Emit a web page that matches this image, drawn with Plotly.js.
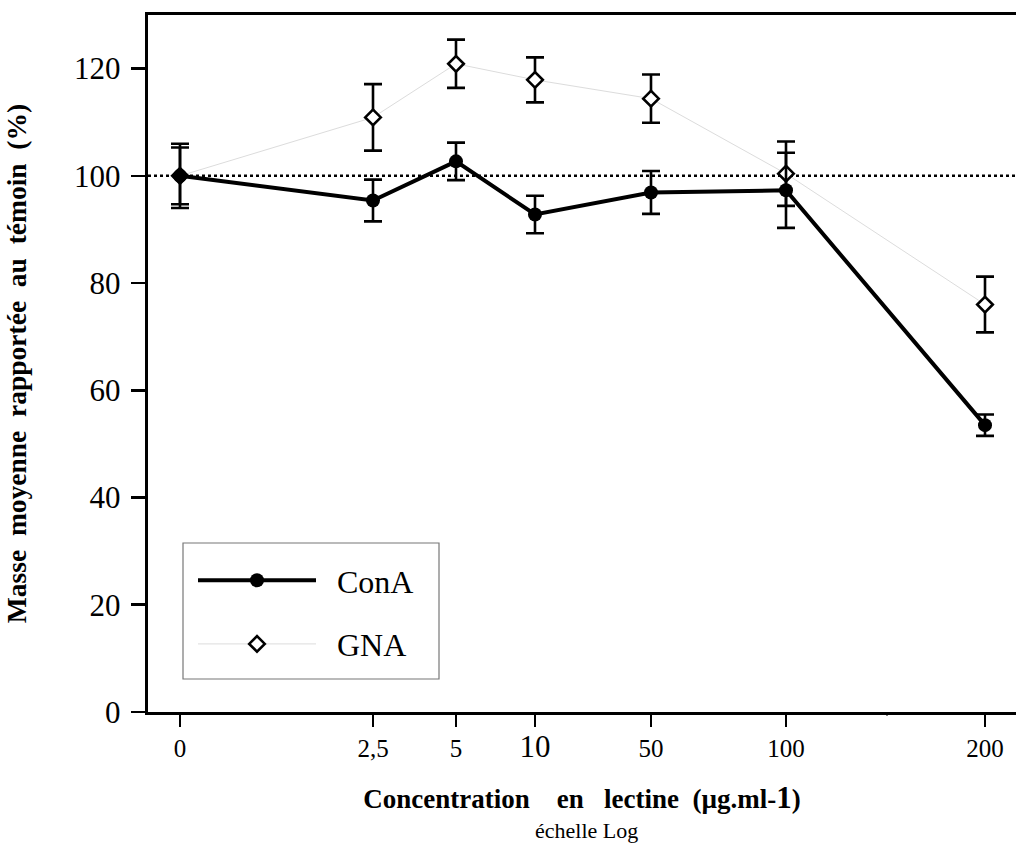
<!DOCTYPE html>
<html><head><meta charset="utf-8">
<script src="https://cdn.plot.ly/plotly-3.0.1.min.js"></script>
<style>body{margin:0;background:#fff}#chart{width:1016px;height:847px}</style>
</head><body><div id="chart"></div>
<script>
// Concentration categories (µg/ml) and their slot positions on the (non-uniform) log-like axis
var concLabels = ['0', '2,5', '5', '10', '50', '100', '200'];
var concSlots  = [0.32, 2.25, 3.08, 3.87, 5.03, 6.38, 8.37];

// ConA: mean mass relative to control (%) and error
var conaMean = [100.0, 95.4, 102.7, 92.8, 96.9, 97.3, 53.5];
var conaErr  = [5.3, 3.9, 3.5, 3.5, 4.0, 7.0, 2.0];

// GNA
var gnaMean = [100.0, 110.9, 120.9, 117.9, 114.4, 100.4, 76.0];
var gnaErr  = [6.0, 6.2, 4.5, 4.2, 4.5, 6.0, 5.2];

var yTicks = [0, 20, 40, 60, 80, 100, 120];

var serif = 'Liberation Serif, Times New Roman, serif';
var nb = '\u00a0';
var gap2 = nb + ' ';
var gap3 = nb + nb + ' ';
var gap4 = nb + nb + nb + ' ';

var tickText = concLabels.map(function(l){
  return l === '10' ? '<span style="font-size:31px">10</span>' : l;
});

var traces = [
  {
    x: concSlots, y: gnaMean, name: nb + nb + 'GNA', type: 'scatter', mode: 'lines+markers',
    legendrank: 2, legendgroup: 'gna',
    line: {color: '#dcdcdc', width: 1},
    marker: {symbol: 'diamond', size: 12, color: '#fff', line: {color: '#000', width: 2.6}},
    error_y: {type: 'data', array: gnaErr, visible: true, color: '#000', thickness: 2.6, width: 9}
  },
  {
    x: concSlots, y: conaMean, name: nb + nb + 'ConA', type: 'scatter', mode: 'lines+markers',
    legendrank: 1, legendgroup: 'cona',
    line: {color: '#000', width: 4},
    marker: {symbol: 'circle', size: 14, color: '#000'},
    error_y: {type: 'data', array: conaErr, visible: true, color: '#000', thickness: 2.6, width: 9}
  }
];

var layout = {
  width: 1016, height: 847,
  margin: {l: 148, r: 0, t: 15, b: 135},
  paper_bgcolor: '#fff', plot_bgcolor: '#fff',
  font: {family: serif, color: '#000'},
  showlegend: true,
  legend: {
    x: (193 - 148) / 868, y: (712 - 553) / 697, xanchor: 'left', yanchor: 'top',
    bgcolor: 'rgba(0,0,0,0)', borderwidth: 0,
    font: {family: serif, size: 32, color: '#000'},
    itemwidth: 118, tracegroupgap: 19, traceorder: 'grouped'
  },
  xaxis: {
    range: [0, 8.68], showgrid: false, zeroline: false,
    showline: true, linecolor: '#000', linewidth: 3.2, mirror: true,
    ticks: 'outside', ticklen: 12, tickwidth: 2.6, tickcolor: '#000',
    tickmode: 'array', tickvals: concSlots, ticktext: tickText,
    tickfont: {family: serif, size: 25, color: '#000'},
    title: {
      text: '<b>Concentration' + gap4 + 'en' + gap3 + 'lectine' + gap2 + '(µg.ml-<span style="font-size:31px">1</span>)</b>',
      font: {family: serif, size: 27, color: '#000'},
      standoff: 26
    }
  },
  yaxis: {
    range: [0, 130], showgrid: false, zeroline: false,
    showline: true, linecolor: '#000', linewidth: 3.2, mirror: false,
    ticks: 'outside', ticklen: 14, tickwidth: 2.6, tickcolor: '#000',
    tickmode: 'array', tickvals: yTicks,
    tickfont: {family: serif, size: 31, color: '#000'},
    ticklabelstandoff: 4,
    title: {
      text: '<b>Masse' + gap2 + 'moyenne' + gap2 + 'rapportée' + gap2 + 'au' + gap2 + 'témoin' + gap2 + '(%)</b>',
      font: {family: serif, size: 27.5, color: '#000'},
      standoff: 40
    }
  },
  shapes: [
    {type: 'line', xref: 'paper', x0: 0, x1: 1, yref: 'y', y0: 100, y1: 100,
     line: {color: '#000', width: 2.5, dash: 'dot'}, layer: 'below'},
    {type: 'line', xref: 'x', x0: 7.39, x1: 7.39, yref: 'paper', y0: 0, y1: -0.005,
     line: {color: '#000', width: 2}},
    {type: 'rect', xref: 'paper', yref: 'paper',
     x0: (183 - 148) / 868, x1: (439 - 148) / 868, y0: (712 - 679) / 697, y1: (712 - 543) / 697,
     line: {color: '#777', width: 1.2}, fillcolor: 'rgba(0,0,0,0)', layer: 'below'}
  ],
  annotations: [
    {text: 'échelle Log', xref: 'paper', x: 0.505, yref: 'paper', y: (712 - 830) / 697, yanchor: 'middle',
     showarrow: false, font: {family: serif, size: 22, color: '#000'}}
  ]
};

Plotly.newPlot('chart', traces, layout, {displayModeBar: false, staticPlot: true});
</script>
</body></html>
